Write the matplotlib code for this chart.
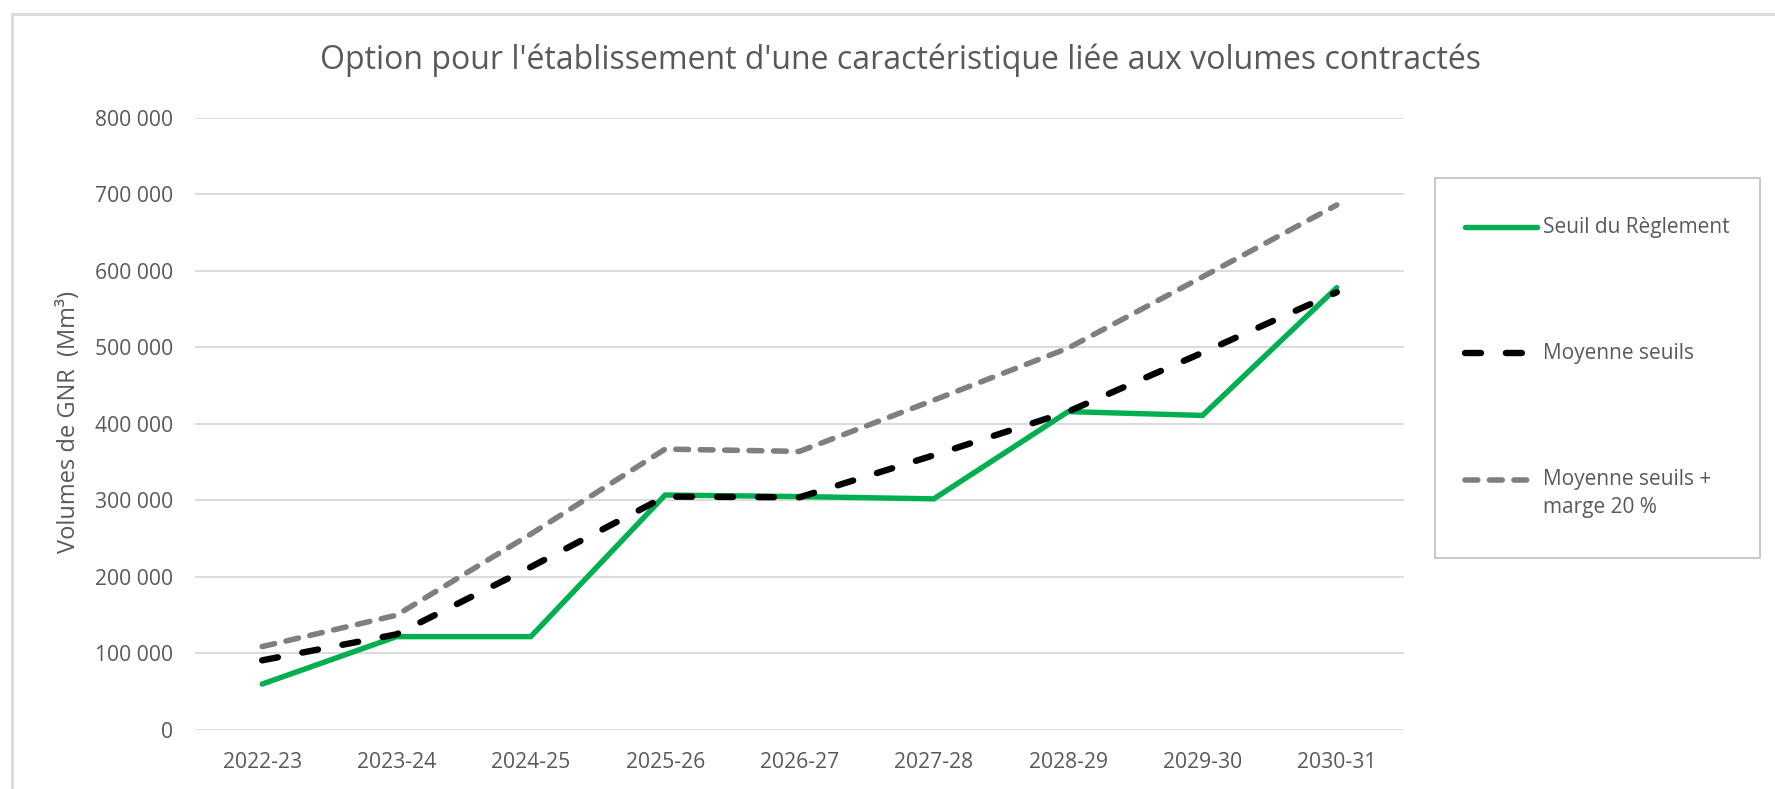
import matplotlib.pyplot as plt
from matplotlib.lines import Line2D
from matplotlib.patches import Rectangle

# Données
annees = ["2022-23", "2023-24", "2024-25", "2025-26", "2026-27",
          "2027-28", "2028-29", "2029-30", "2030-31"]
seuil_reglement = [60000, 122000, 122000, 307000, 305000, 302000, 416000, 411000, 578000]
moyenne_seuils = [91000, 125000, 213000, 305000, 304000, 359000, 416000, 493000, 572000]
moyenne_marge = [109000, 150000, 256000, 367000, 364000, 431000, 499000, 592000, 686000]

yticks = [0, 100000, 200000, 300000, 400000, 500000, 600000, 700000, 800000]

plt.rcParams["font.family"] = ["Open Sans", "DejaVu Sans"]
texte = "#595959"

W, H = 1775, 789
fig = plt.figure(figsize=(W / 100, H / 100), dpi=100)
ax = fig.add_axes([195 / W, 1 - 730 / H, (1404 - 195) / W, (730 - 117.7) / H])

styles = [
    dict(color="#00b050", lw=3.9, solid_capstyle="round", solid_joinstyle="miter"),
    dict(color="black", lw=4.6, dashes=(2.5, 3.9), dash_capstyle="round"),
    dict(color="#7f7f7f", lw=4.0, dashes=(2.3, 2.1), dash_capstyle="round"),
]
labels = ["Seuil du Règlement", "Moyenne seuils", "Moyenne seuils +\nmarge 20 %"]
series = [seuil_reglement, moyenne_seuils, moyenne_marge]
zorders = [3, 4, 2]

x = range(len(annees))
for vals, st, z in zip(series, styles, zorders):
    ax.plot(x, vals, zorder=z, **st)

ax.set_xlim(-0.5, len(annees) - 0.5)
ax.set_ylim(0, 800000)
ax.set_xticks(list(x))
ax.set_xticklabels(annees)
ax.set_yticks(yticks)
ax.set_yticklabels(["0" if v == 0 else f"{v // 1000} 000" for v in yticks])
ax.tick_params(length=0, labelsize=15.2, colors=texte)
ax.tick_params(axis="y", pad=16)
ax.tick_params(axis="x", pad=15.5)
ax.grid(axis="y", color="#d9d9d9", lw=1.3)
ax.set_axisbelow(True)
for s in ax.spines.values():
    s.set_visible(False)

fig.text(69 / W, 1 - 422 / H, "Volumes de GNR  (Mm³)", rotation=90,
         ha="center", va="center", fontsize=17, color=texte)
fig.text(901 / W, 1 - 60 / H,
         "Option pour l'établissement d'une caractéristique liée aux volumes contractés",
         ha="center", va="center", fontsize=23, color=texte)

# légende dessinée à la main (cadre + traits + textes)
fig.add_artist(Rectangle((1435 / W, 1 - 558 / H), (1760 - 1435) / W, (558 - 178) / H,
                         transform=fig.transFigure, fill=False,
                         edgecolor="#bfbfbf", lw=1.2))
leg_y = [227, 353, 480]
for lab, st, yy in zip(labels, styles, leg_y):
    fig.add_artist(Line2D([1465 / W, 1537 / W], [1 - yy / H, 1 - yy / H],
                          transform=fig.transFigure, **st))
    for i, ligne in enumerate(lab.split("\n")):
        fig.text(1543 / W, 1 - (yy + 28 * i) / H, ligne, ha="left", va="center",
                 fontsize=15, color=texte)

# cadre du graphique (haut et gauche visibles)
fig.add_artist(Line2D([12 / W, 1], [1 - 14 / H, 1 - 14 / H], color="#d9d9d9", lw=2,
                      transform=fig.transFigure))
fig.add_artist(Line2D([12 / W, 12 / W], [0, 1 - 14 / H], color="#d9d9d9", lw=2,
                      transform=fig.transFigure))

fig.savefig("out.png", dpi=100)
